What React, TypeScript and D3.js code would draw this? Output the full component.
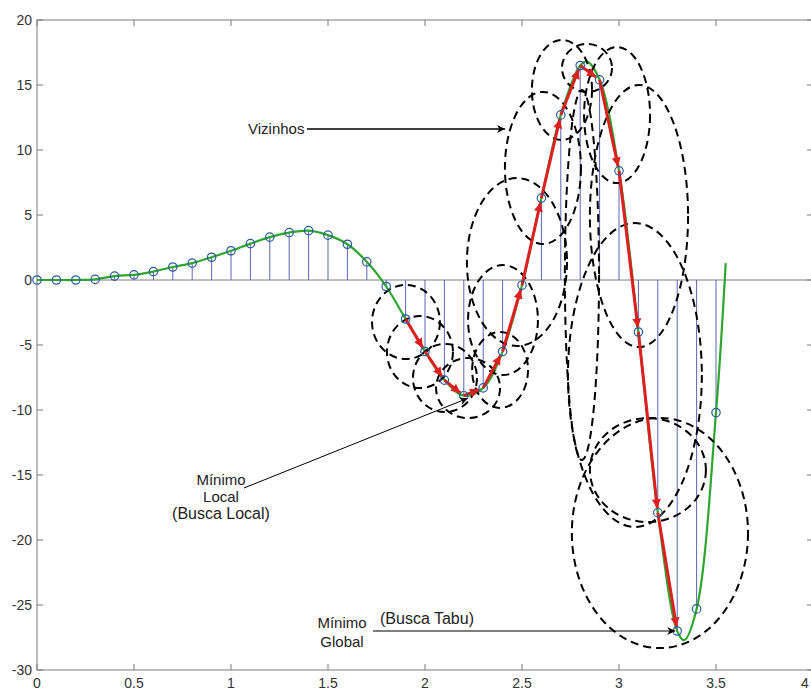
import React from 'react';
import * as d3 from 'd3';

// ---- data ----
const stemX = [0, 0.1, 0.2, 0.3, 0.4, 0.5, 0.6, 0.7, 0.8, 0.9, 1.0, 1.1, 1.2, 1.3, 1.4, 1.5, 1.6, 1.7, 1.8, 1.9,
  2.0, 2.1, 2.2, 2.3, 2.4, 2.5, 2.6, 2.7, 2.8, 2.9, 3.0, 3.1, 3.2, 3.3, 3.4, 3.5];
const stemY = [0, 0, 0, 0.05, 0.3, 0.4, 0.65, 1.0, 1.3, 1.75, 2.25, 2.8, 3.3, 3.65, 3.8, 3.45, 2.75, 1.4, -0.5, -3.0,
  -5.5, -7.7, -8.9, -8.3, -5.5, -0.4, 6.3, 12.7, 16.5, 15.4, 8.4, -4.0, -17.9, -27.0, -25.3, -10.2];

// green function curve (stems plus peak, minimum and end)
const curveX = [0, 0.1, 0.2, 0.3, 0.4, 0.5, 0.6, 0.7, 0.8, 0.9, 1.0, 1.1, 1.2, 1.3, 1.4, 1.5, 1.6, 1.7, 1.8, 1.9,
  2.0, 2.1, 2.2, 2.3, 2.4, 2.5, 2.6, 2.7, 2.8, 2.835, 2.9, 3.0, 3.1, 3.2, 3.3, 3.335, 3.4, 3.5, 3.55];
const curveY = [0, 0, 0, 0.05, 0.3, 0.4, 0.65, 1.0, 1.3, 1.75, 2.25, 2.8, 3.3, 3.65, 3.8, 3.45, 2.75, 1.4, -0.5, -3.0,
  -5.5, -7.7, -8.9, -8.3, -5.5, -0.4, 6.3, 12.7, 16.5, 16.8, 15.4, 8.4, -4.0, -17.9, -27.0, -27.7, -25.3, -10.2, 1.3];

// tabu search path (x values of visited points)
const pathX = [1.9, 2.0, 2.1, 2.2, 2.3, 2.4, 2.5, 2.6, 2.7, 2.8, 2.9, 3.0, 3.1, 3.2, 3.3];

// neighbourhood ellipses (centre and radii in data units)
const ellX = [1.902, 1.974, 2.103, 2.222, 2.387, 2.402, 2.474, 2.608, 2.706, 2.835, 2.990, 2.809, 3.103, 3.082, 3.149, 3.211];
const ellY = [-3.23, -5.54, -7.54, -8.31, -6.92, -3.08, 1.38, 8.62, 14.62, 16.31, 12.69, 0.38, 4.92, -7.31, -14.62, -19.46];
const ellRX = [0.175, 0.170, 0.165, 0.165, 0.144, 0.180, 0.258, 0.196, 0.155, 0.129, 0.170, 0.088, 0.253, 0.345, 0.299, 0.454];
const ellRY = [2.85, 2.77, 2.62, 2.31, 2.92, 4.23, 6.46, 5.85, 3.85, 1.85, 5.23, 14.23, 10.08, 11.69, 4.0, 8.85];

const xTicks = [0, 0.5, 1, 1.5, 2, 2.5, 3, 3.5, 4];
const xTickLabels = ['0', '0.5', '1', '1.5', '2', '2.5', '3', '3.5', '4'];
const yTicks = [20, 15, 10, 5, 0, -5, -10, -15, -20, -25, -30];
const yTickLabels = ['20', '15', '10', '5', '0', '-5', '-10', '-15', '-20', '-25', '-30'];

const vizLabel = 'Vizinhos';
const localLabel = ['Mínimo', 'Local', '(Busca Local)'];
const globalLabel = ['Mínimo', 'Global'];
const tabuLabel = '(Busca Tabu)';

const W = 811;
const H = 690;
const FONT = '"Liberation Sans", Arial, Helvetica, sans-serif';

export default function App() {
  const x = d3.scaleLinear().domain([0, 4]).range([37, 813]);
  const y = d3.scaleLinear().domain([-30, 20]).range([670, 20]);

  const green = d3.line<number>()
    .x((_, i) => x(curveX[i]))
    .y((d) => y(d))
    .curve(d3.curveCatmullRom.alpha(0.5));

  const yOf = (xv: number) => stemY[stemX.findIndex((s) => Math.abs(s - xv) < 1e-6)];

  // red arrow segments, shortened so tips stop at the markers
  const segs = pathX.slice(1).map((xv, i) => {
    const x0 = x(pathX[i]);
    const y0 = y(yOf(pathX[i]));
    const x1 = x(xv);
    const y1 = y(yOf(xv));
    const len = Math.hypot(x1 - x0, y1 - y0);
    const k = (len - 4.5) / len;
    return { x0, y0, x1: x0 + (x1 - x0) * k, y1: y0 + (y1 - y0) * k };
  });

  const left = x(0);
  const right = x(4);
  const top = y(20);
  const bottom = y(-30);
  const axisColor = '#7a7a7a';

  return (
    <svg width={W} height={H} style={{ position: 'absolute', left: 0, top: 0, background: '#fff' }}>
      <defs>
        <marker id="redHead" viewBox="0 0 10 10" refX="10" refY="5" markerWidth="12" markerHeight="9"
          markerUnits="userSpaceOnUse" orient="auto">
          <path d="M0,0 L10,5 L0,10 z" fill="#dc1f1f" />
        </marker>
        <marker id="blackHead" viewBox="0 0 10 10" refX="10" refY="5" markerWidth="11" markerHeight="8"
          markerUnits="userSpaceOnUse" orient="auto">
          <path d="M0,0 L10,5 L0,10 L3,5 z" fill="#000" />
        </marker>
      </defs>

      {/* axes frame */}
      <rect x={left} y={top} width={right - left} height={bottom - top} fill="none" stroke={axisColor} strokeWidth={1} />
      {xTicks.map((t) => (
        <g key={'xt' + t}>
          <line x1={x(t)} x2={x(t)} y1={bottom} y2={bottom - 6} stroke={axisColor} />
          <line x1={x(t)} x2={x(t)} y1={top} y2={top + 6} stroke={axisColor} />
        </g>
      ))}
      {yTicks.map((t) => (
        <g key={'yt' + t}>
          <line x1={left} x2={left + 6} y1={y(t)} y2={y(t)} stroke={axisColor} />
          <line x1={right} x2={right - 6} y1={y(t)} y2={y(t)} stroke={axisColor} />
        </g>
      ))}
      {xTicks.map((t, i) => (
        <text key={'xl' + t} x={Math.min(x(t), 805)} y={688} textAnchor="middle" fontFamily={FONT} fontSize={14} fill="#333">
          {xTickLabels[i]}
        </text>
      ))}
      {yTicks.map((t, i) => (
        <text key={'yl' + t} x={32} y={y(t) + 5} textAnchor="end" fontFamily={FONT} fontSize={14} fill="#333">
          {yTickLabels[i]}
        </text>
      ))}

      {/* baseline */}
      <line x1={left} x2={right} y1={y(0)} y2={y(0)} stroke="#808080" strokeWidth={1} />

      {/* stems */}
      {stemX.map((sx, i) => (
        <line key={'s' + i} x1={x(sx)} x2={x(sx)} y1={y(0)} y2={y(stemY[i])} stroke="#5b66b0" strokeWidth={1} />
      ))}

      {/* function curve */}
      <path d={green(curveY) || ''} fill="none" stroke="#2ea52e" strokeWidth={2.2} />

      {/* neighbourhood ellipses */}
      {ellX.map((cx, i) => (
        <ellipse key={'e' + i} cx={x(cx)} cy={y(ellY[i])}
          rx={x(cx + ellRX[i]) - x(cx)} ry={y(ellY[i] - ellRY[i]) - y(ellY[i])}
          fill="none" stroke="#000" strokeWidth={2} strokeDasharray="8 5" />
      ))}

      {/* tabu path */}
      {segs.map((s, i) => (
        <line key={'r' + i} x1={s.x0} y1={s.y0} x2={s.x1} y2={s.y1} stroke="#dc1f1f" strokeWidth={3}
          markerEnd="url(#redHead)" />
      ))}

      {/* stem markers */}
      {stemX.map((sx, i) => (
        <circle key={'m' + i} cx={x(sx)} cy={y(stemY[i])} r={4.2} fill="none" stroke="#2a5a9a" strokeWidth={1.2} />
      ))}

      {/* annotations */}
      <text x={248} y={134} fontFamily={FONT} fontSize={15} fill="#222">{vizLabel}</text>
      <line x1={307} y1={129} x2={505} y2={129} stroke="#000" strokeWidth={1.3} markerEnd="url(#blackHead)" />

      {localLabel.map((t, i) => (
        <text key={'ll' + i} x={221} y={485 + i * 17} textAnchor="middle" fontFamily={FONT}
          fontSize={i === 2 ? 16 : 15} fill="#222">{t}</text>
      ))}
      <line x1={244} y1={488} x2={x(2.22)} y2={y(-9.1)} stroke="#000" strokeWidth={1} markerEnd="url(#blackHead)" />

      {globalLabel.map((t, i) => (
        <text key={'gl' + i} x={342} y={628 + i * 19} textAnchor="middle" fontFamily={FONT} fontSize={15} fill="#222">{t}</text>
      ))}
      <text x={380} y={624} fontFamily={FONT} fontSize={16} fill="#222">{tabuLabel}</text>
      <line x1={373} y1={631} x2={x(3.29)} y2={631} stroke="#000" strokeWidth={1.2} markerEnd="url(#blackHead)" />
    </svg>
  );
}
